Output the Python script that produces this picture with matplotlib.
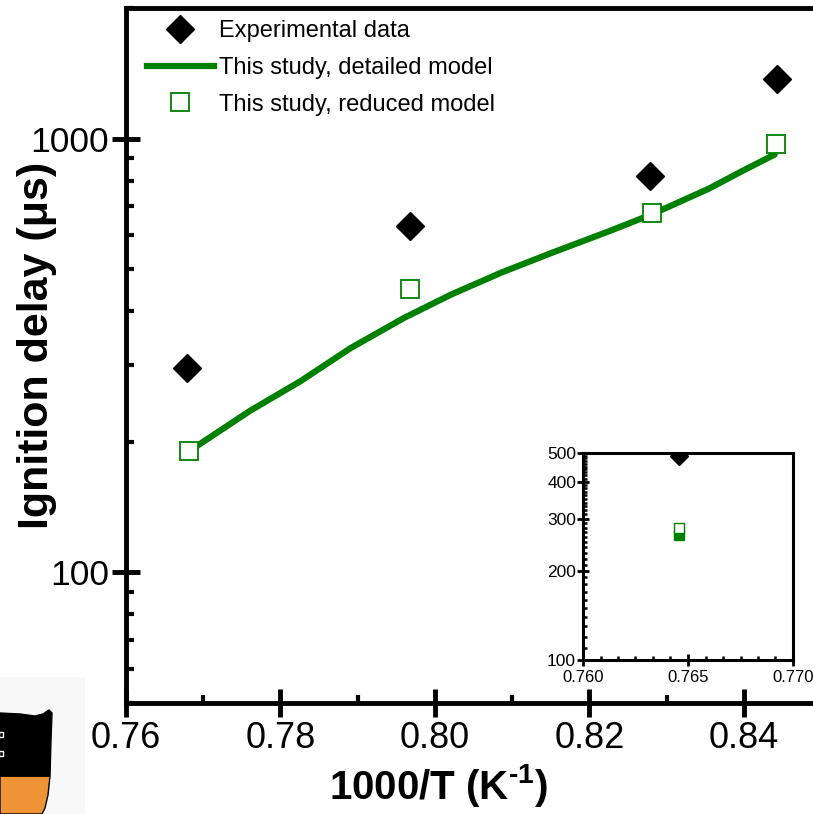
import matplotlib
matplotlib.use("Agg")
import matplotlib.pyplot as plt
from matplotlib.ticker import FixedLocator, NullFormatter, LogLocator, AutoMinorLocator, FormatStrFormatter
from matplotlib.patches import Polygon, Rectangle
from matplotlib.lines import Line2D

plt.rcParams['font.family'] = ['Liberation Sans', 'DejaVu Sans']
plt.rcParams['mathtext.fontset'] = 'custom'
plt.rcParams['mathtext.rm'] = 'Liberation Sans'
plt.rcParams['mathtext.bf'] = 'Liberation Sans:bold'
plt.rcParams['mathtext.it'] = 'Liberation Sans:italic'

# ---- data ----
exp_x = [0.7679, 0.7968, 0.8279, 0.8443]
exp_y = [296, 628, 822, 1374]

red_x = [0.7681, 0.7968, 0.8281, 0.8442]
red_y = [190, 450, 673, 974]

det_x = [0.7683, 0.7761, 0.7826, 0.7891, 0.7960, 0.8021, 0.8086, 0.8151,
         0.8225, 0.8281, 0.8355, 0.8397, 0.8440]
det_y = [191, 236, 276, 329, 386, 437, 491, 545, 611, 669, 767, 840, 919]

inset_exp_x = [0.76457]
inset_exp_y = [489]
inset_red_x = [0.76457]
inset_red_y = [280]
inset_det_x = [0.76457]
inset_det_y = [265]

xticks = [0.76, 0.78, 0.80, 0.82, 0.84]
yticks = [100, 1000]
inset_xticks = [0.760, 0.765, 0.770]
inset_yticks = [100, 200, 300, 400, 500]

GREEN = '#008000'
W, H = 813, 814

fig = plt.figure(figsize=(W / 100, H / 100), dpi=100)

# ---- main axes ----
ax = fig.add_axes([126 / W, 111 / H, 695 / W, 695 / H])
ax.set_yscale('log')
ax.set_xlim(0.76, 0.85)
ax.set_ylim(50, 2000)

ax.plot(det_x, det_y, color=GREEN, lw=4.5, solid_capstyle='round',
        solid_joinstyle='round', label='This study, detailed model', zorder=2)
ax.plot(exp_x, exp_y, ls='none', marker='D', ms=14.5, color='black',
        label='Experimental data', zorder=3)
ax.plot(red_x, red_y, ls='none', marker='s', ms=13.5, mfc='white',
        mec=GREEN, mew=1.3, label='This study, reduced model', zorder=4)

for s in ax.spines.values():
    s.set_linewidth(3.5)

ax.xaxis.set_major_locator(FixedLocator(xticks))
ax.xaxis.set_major_formatter(FormatStrFormatter('%.2f'))
ax.xaxis.set_minor_locator(AutoMinorLocator(2))
ax.yaxis.set_major_locator(FixedLocator(yticks))
ax.yaxis.set_major_formatter(FormatStrFormatter('%d'))
ax.yaxis.set_minor_locator(LogLocator(base=10, subs=range(2, 10)))
ax.yaxis.set_minor_formatter(NullFormatter())

ax.tick_params(which='major', direction='inout', length=20, width=3.5)
ax.tick_params(axis='x', which='major', labelsize=26, pad=3)
ax.tick_params(axis='y', which='major', labelsize=25.5, pad=2)
ax.tick_params(which='minor', direction='in', length=6, width=3)
ax.tick_params(top=False, right=False, which='both')

ax.set_xlabel('1000/T (K$^{\\mathbf{\u2010 1}}$)', fontsize=29, fontweight='bold')
ax.xaxis.set_label_coords(0.45, -0.085)
ax.set_ylabel('Ignition delay (μs)', fontsize=31, fontweight='bold')
ax.yaxis.set_label_coords(-0.10, 0.515)

# legend order as in the reference
h_exp = Line2D([], [], ls='none', marker='D', ms=14.5, color='black')
h_det = Line2D([], [], color=GREEN, lw=4.5)
h_red = Line2D([], [], ls='none', marker='s', ms=13.5, mfc='white', mec=GREEN, mew=1.3)
ax.legend([h_exp, h_det, h_red],
          ['Experimental data', 'This study, detailed model', 'This study, reduced model'],
          loc='upper left', bbox_to_anchor=(0.006, 1.006), frameon=False,
          fontsize=17, handlelength=2.85, handletextpad=0.2, labelspacing=0.62,
          borderaxespad=0.3)

# ---- inset ----
ax2 = fig.add_axes([583 / W, 154 / H, 210 / W, 207 / H])
ax2.set_yscale('log')
ax2.set_xlim(0.760, 0.770)
ax2.set_ylim(100, 500)
ax2.plot(inset_exp_x, inset_exp_y, ls='none', marker='D', ms=9, color='black', zorder=3)
ax2.plot(inset_det_x, inset_det_y, ls='none', marker='s', ms=6.5, color=GREEN, zorder=3)
ax2.plot(inset_red_x, inset_red_y, ls='none', marker='s', ms=6.5, mfc='white',
         mec=GREEN, mew=1.0, zorder=4)
for s in ax2.spines.values():
    s.set_linewidth(2.2)
ax2.xaxis.set_major_locator(FixedLocator(inset_xticks))
ax2.xaxis.set_major_formatter(FormatStrFormatter('%.3f'))
ax2.xaxis.set_minor_locator(AutoMinorLocator(6))
ax2.yaxis.set_major_locator(FixedLocator(inset_yticks))
ax2.yaxis.set_major_formatter(FormatStrFormatter('%d'))
ax2.yaxis.set_minor_locator(LogLocator(base=10, subs=[i / 10 for i in range(10, 100)]))
ax2.yaxis.set_minor_formatter(NullFormatter())
ax2.tick_params(which='major', direction='inout', length=8, width=2, labelsize=12.5, pad=1)
ax2.tick_params(axis='x', which='major', labelsize=12, pad=3)
ax2.tick_params(which='minor', direction='in', length=3, width=1.8)
ax2.tick_params(top=False, right=False, which='both')

# ---- logo (decoration, figure pixel coordinates) ----
def P(x, y):
    return (x / W, 1 - y / H)

fig.patches.append(Rectangle(P(0, 814), 85 / W, 137 / H, transform=fig.transFigure,
                             facecolor='#f8f8f8', edgecolor='none', zorder=0))
black_part = [P(0, 713), P(20, 714), P(35, 716), P(43, 714), P(49, 710), P(52, 713),
              P(51, 740), P(50, 776), P(0, 776)]
orange_part = [P(0, 776), P(50, 776), P(48, 795), P(45, 808), P(42, 814), P(0, 814)]
fig.patches.append(Polygon(orange_part, closed=True, transform=fig.transFigure,
                           facecolor='#ee9336', edgecolor='black', lw=1.0, zorder=1))
fig.patches.append(Polygon(black_part, closed=True, transform=fig.transFigure,
                           facecolor='black', edgecolor='black', lw=1.0, zorder=1))
for yy in (734, 753):
    fig.patches.append(Rectangle(P(-1, yy + 3), 4 / W, 5 / H, transform=fig.transFigure,
                                 facecolor='black', edgecolor='white', lw=1.0, zorder=2))

fig.savefig('out.png', dpi=100)
